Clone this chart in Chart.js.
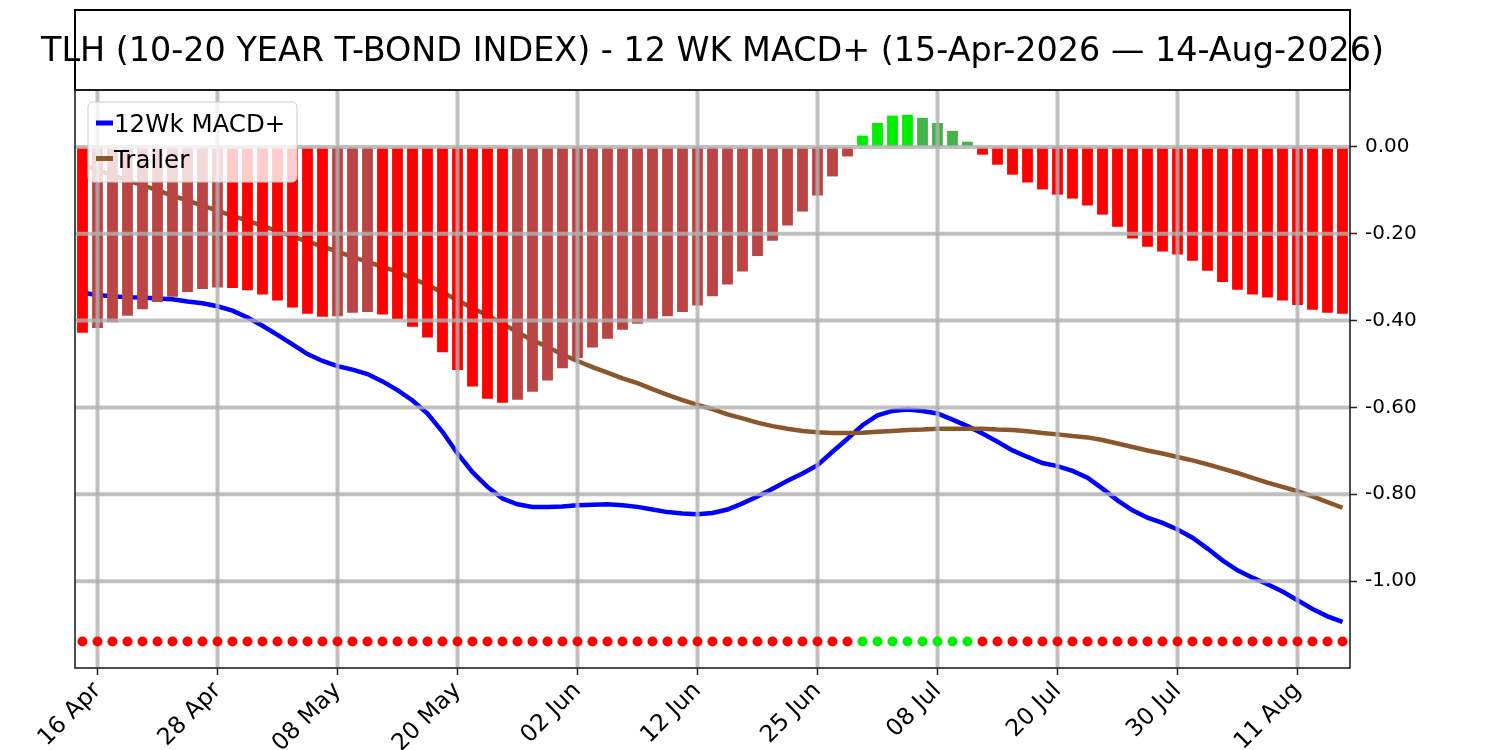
<!DOCTYPE html>
<html>
<head>
<meta charset="utf-8">
<script src="https://cdn.jsdelivr.net/npm/chart.js@4.4.1/dist/chart.umd.min.js"></script>
<style>
  html, body { margin: 0; padding: 0; background: #fff; }
  #wrap { width: 1500px; height: 750px; }
</style>
</head>
<body>
<div id="wrap"><canvas id="macdChart" width="1500" height="750"></canvas></div>
<script>
const TITLE = 'TLH (10-20 YEAR T-BOND INDEX) - 12 WK MACD+ (15-Apr-2026 \u2014 14-Aug-2026)'

// trading days, 15 Apr .. 14 Aug 2026
const dates = [
  '15 Apr', '16 Apr', '17 Apr', '20 Apr', '21 Apr', '22 Apr', '23 Apr', '24 Apr', '27 Apr', '28 Apr',
  '29 Apr', '30 Apr', '01 May', '04 May', '05 May', '06 May', '07 May', '08 May',
  '11 May', '12 May', '13 May', '14 May', '15 May', '18 May', '19 May', '20 May',
  '21 May', '22 May', '26 May', '27 May', '28 May', '29 May', '01 Jun', '02 Jun',
  '03 Jun', '04 Jun', '05 Jun', '08 Jun', '09 Jun', '10 Jun', '11 Jun', '12 Jun',
  '15 Jun', '16 Jun', '17 Jun', '18 Jun', '22 Jun', '23 Jun', '24 Jun', '25 Jun',
  '26 Jun', '29 Jun', '30 Jun', '01 Jul', '02 Jul', '06 Jul', '07 Jul', '08 Jul',
  '09 Jul', '10 Jul', '13 Jul', '14 Jul', '15 Jul', '16 Jul', '17 Jul', '20 Jul',
  '21 Jul', '22 Jul', '23 Jul', '24 Jul', '27 Jul', '28 Jul', '29 Jul', '30 Jul',
  '31 Jul', '03 Aug', '04 Aug', '05 Aug', '06 Aug', '07 Aug', '10 Aug', '11 Aug',
  '12 Aug', '13 Aug', '14 Aug'
]

const tickDates = ['16 Apr', '28 Apr', '08 May', '20 May', '02 Jun', '12 Jun', '25 Jun', '08 Jul', '20 Jul', '30 Jul', '11 Aug']
const yTicks = [0, -0.2, -0.4, -0.6, -0.8, -1.0]

const histogram = [
  -0.428, -0.417, -0.404, -0.389, -0.374, -0.357, -0.345, -0.334, -0.327, -0.324,
  -0.325, -0.330, -0.340, -0.354, -0.370, -0.384, -0.391, -0.390, -0.382, -0.380,
  -0.386, -0.397, -0.414, -0.439, -0.473, -0.514, -0.552, -0.580, -0.589, -0.582,
  -0.564, -0.538, -0.510, -0.486, -0.462, -0.442, -0.421, -0.407, -0.397, -0.390,
  -0.380, -0.365, -0.344, -0.317, -0.287, -0.251, -0.216, -0.181, -0.149, -0.112,
  -0.068, -0.022, 0.026, 0.055, 0.072, 0.074, 0.067, 0.055, 0.037, 0.012,
  -0.018, -0.041, -0.064, -0.082, -0.098, -0.110, -0.119, -0.135, -0.156, -0.184,
  -0.211, -0.230, -0.241, -0.248, -0.262, -0.285, -0.311, -0.329, -0.340, -0.347,
  -0.354, -0.364, -0.375, -0.382, -0.384
]

const macd = [
  -0.336, -0.341, -0.344, -0.346, -0.347, -0.349, -0.351, -0.356, -0.360, -0.367,
  -0.377, -0.393, -0.412, -0.433, -0.455, -0.477, -0.493, -0.505, -0.513, -0.523,
  -0.540, -0.560, -0.584, -0.614, -0.656, -0.706, -0.749, -0.783, -0.810, -0.823,
  -0.829, -0.829, -0.828, -0.825, -0.824, -0.823, -0.825, -0.829, -0.835, -0.841,
  -0.844, -0.846, -0.843, -0.835, -0.821, -0.805, -0.787, -0.769, -0.752, -0.733,
  -0.702, -0.672, -0.641, -0.618, -0.608, -0.605, -0.608, -0.614, -0.628, -0.643,
  -0.660, -0.679, -0.699, -0.714, -0.728, -0.735, -0.746, -0.762, -0.787, -0.814,
  -0.837, -0.854, -0.866, -0.881, -0.900, -0.925, -0.952, -0.975, -0.992, -1.007,
  -1.024, -1.044, -1.064, -1.081, -1.094
]

const trailer = [
  -0.041, -0.053, -0.065, -0.077, -0.088, -0.100, -0.112, -0.124, -0.135, -0.147,
  -0.159, -0.170, -0.182, -0.194, -0.206, -0.218, -0.229, -0.241, -0.253, -0.265,
  -0.276, -0.288, -0.303, -0.318, -0.335, -0.353, -0.371, -0.388, -0.407, -0.427,
  -0.445, -0.461, -0.478, -0.493, -0.507, -0.520, -0.533, -0.544, -0.558, -0.571,
  -0.583, -0.594, -0.604, -0.616, -0.625, -0.635, -0.643, -0.649, -0.654, -0.657,
  -0.659, -0.659, -0.658, -0.656, -0.654, -0.652, -0.651, -0.649, -0.649, -0.649,
  -0.649, -0.651, -0.652, -0.655, -0.659, -0.662, -0.666, -0.669, -0.675, -0.683,
  -0.691, -0.699, -0.706, -0.714, -0.722, -0.731, -0.741, -0.751, -0.762, -0.773,
  -0.783, -0.793, -0.805, -0.818, -0.831
]

// level of the signal dot row
const DOT_LEVEL = -1.139

const BRIGHT_RED = '#ff0000'
const DULL_RED = '#bb4545'
const BRIGHT_GREEN = '#00ee00'
const DULL_GREEN = '#44b44a'
const BLUE = '#0000ff'
const BROWN = '#8b562a'
const FONT = "'DejaVu Sans', sans-serif"

const barColors = histogram.map((v, i) => {
    const rising = i > 0 && v > histogram[i - 1]
    if (v >= 0) return rising ? BRIGHT_GREEN : DULL_GREEN
    return rising ? DULL_RED : BRIGHT_RED
})
const dotColors = histogram.map(v => v >= 0 ? BRIGHT_GREEN : BRIGHT_RED)

// grid goes over the bars but under the dots
const gridPlugin = {
    id: 'gridOverBars',
    afterDatasetDraw(chart, args) {
        if (args.index !== 0) return
        const { ctx, chartArea: a, scales: { x, y } } = chart
        ctx.save()
        ctx.beginPath()
        ctx.rect(a.left, a.top, a.right - a.left, a.bottom - a.top)
        ctx.clip()
        ctx.strokeStyle = 'rgba(176,176,176,0.8)'
        ctx.lineWidth = 4
        tickDates.forEach(d => {
            const px = x.getPixelForValue(dates.indexOf(d))
            ctx.beginPath()
            ctx.moveTo(px, a.top)
            ctx.lineTo(px, a.bottom)
            ctx.stroke()
        })
        yTicks.forEach(v => {
            const py = y.getPixelForValue(v)
            ctx.beginPath()
            ctx.moveTo(a.left, py)
            ctx.lineTo(a.right, py)
            ctx.stroke()
        })
        ctx.restore()
    }
}

const framePlugin = {
    id: 'frameTitleLegend',
    afterDraw(chart) {
        const { ctx, chartArea: a } = chart
        ctx.save()

        // title box
        ctx.fillStyle = '#000'
        ctx.font = '33.4px ' + FONT
        ctx.textAlign = 'center'
        ctx.textBaseline = 'alphabetic'
        ctx.fillText(TITLE, (a.left + a.right) / 2, 61)
        ctx.strokeStyle = '#000'
        ctx.lineWidth = 2
        ctx.strokeRect(a.left, 10, a.right - a.left, a.top - 10)

        // plot frame
        ctx.strokeStyle = '#222'
        ctx.lineWidth = 1.6
        ctx.strokeRect(a.left, a.top, a.right - a.left, a.bottom - a.top)

        // legend
        const lx = a.left + 13, ly = a.top + 12, lw = 209, lh = 80
        ctx.beginPath()
        ctx.roundRect(lx, ly, lw, lh, 5)
        ctx.fillStyle = 'rgba(255,255,255,0.8)'
        ctx.fill()
        ctx.strokeStyle = '#cccccc'
        ctx.lineWidth = 1
        ctx.stroke()

        const rows = [['12Wk MACD+', BLUE], ['Trailer', BROWN]]
        ctx.font = '24.5px ' + FONT
        ctx.textAlign = 'left'
        rows.forEach(([label, color], k) => {
            const cy = ly + 21 + k * 35.5
            ctx.strokeStyle = color
            ctx.lineWidth = 5
            ctx.beginPath()
            ctx.moveTo(lx + 8, cy)
            ctx.lineTo(lx + 25, cy)
            ctx.stroke()
            ctx.fillStyle = '#000'
            ctx.fillText(label, lx + 26, cy + 9)
        })
        ctx.restore()
    }
}

Chart.defaults.font.family = FONT
Chart.defaults.font.size = 20
Chart.defaults.color = '#000'

const macdCtx = document.getElementById('macdChart').getContext('2d')
new Chart(macdCtx, {
    type: 'bar',
    data: {
        labels: dates,
        datasets: [{
            type: 'bar',
            label: 'Histogram',
            data: histogram,
            backgroundColor: barColors,
            borderWidth: 0,
            barPercentage: 0.72,
            categoryPercentage: 1.0,
            order: 1
        }, {
            type: 'line',
            label: '12Wk MACD+',
            data: macd,
            borderColor: BLUE,
            borderWidth: 4.5,
            pointRadius: 0,
            tension: 0,
            order: 3
        }, {
            type: 'line',
            label: 'Trailer',
            data: trailer,
            borderColor: BROWN,
            borderWidth: 4.5,
            pointRadius: 0,
            tension: 0,
            order: 2
        }, {
            type: 'line',
            label: 'Signal',
            data: dates.map(() => DOT_LEVEL),
            showLine: false,
            pointRadius: 5,
            pointBorderWidth: 0,
            pointBackgroundColor: dotColors,
            order: 0
        }]
    },
    options: {
        responsive: false,
        animation: false,
        devicePixelRatio: 1,
        layout: { padding: { left: 75, top: 90, right: 0, bottom: 0 } },
        plugins: {
            legend: { display: false },
            tooltip: { enabled: false }
        },
        scales: {
            x: {
                offset: true,
                grid: {
                    display: true,
                    drawOnChartArea: false,
                    offset: false,
                    tickLength: 7,
                    tickWidth: 1.5,
                    tickColor: c => tickDates.includes(dates[c.index]) ? '#222' : 'rgba(0,0,0,0)'
                },
                border: { display: false },
                ticks: {
                    autoSkip: false,
                    minRotation: 45,
                    maxRotation: 45,
                    padding: 2,
                    font: { size: 23.5 },
                    callback: (v, i) => tickDates.includes(dates[i]) ? dates[i] : ''
                },
                afterFit: s => { s.height = 82 }
            },
            y: {
                position: 'right',
                min: -1.2,
                max: 0.131,
                afterBuildTicks: s => { s.ticks = yTicks.map(v => ({ value: v })) },
                grid: {
                    drawOnChartArea: false,
                    tickLength: 7,
                    tickWidth: 1.5,
                    tickColor: '#222'
                },
                border: { display: false },
                ticks: {
                    padding: 8,
                    callback: v => v.toFixed(2)
                },
                afterFit: s => { s.width = 150 }
            }
        }
    },
    plugins: [gridPlugin, framePlugin]
})
</script>
</body>
</html>
